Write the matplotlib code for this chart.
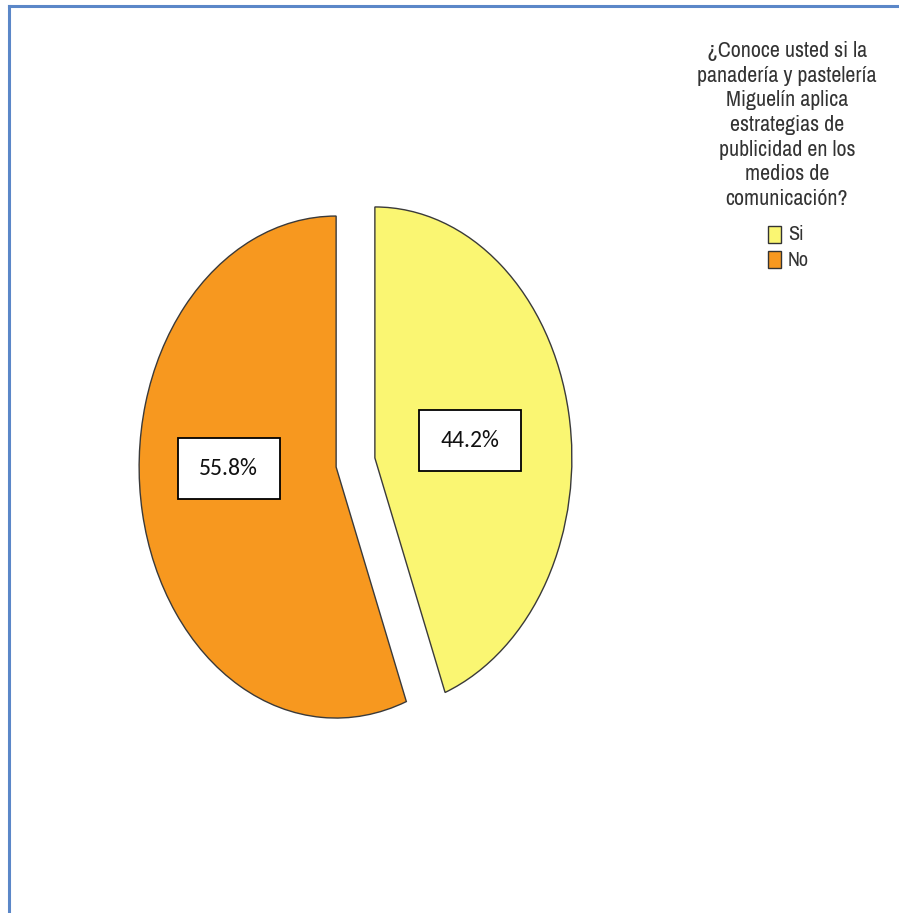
import matplotlib
matplotlib.use("Agg")
import matplotlib.pyplot as plt
from matplotlib.patches import Rectangle
from matplotlib.lines import Line2D

# Survey answers and their shares
categories = ["Si", "No"]
percentages = [44.2, 55.8]
colors = ["#FAF672", "#F7981F"]
legend_title = ("¿Conoce usted si la\npanadería y pastelería\nMiguelín aplica\n"
                "estrategias de\npublicidad en los\nmedios de\ncomunicación?")

W, H = 899, 913
fig = plt.figure(figsize=(W / 100, H / 100), dpi=100)
fig.patch.set_facecolor("white")

# Axes sized so the unit pie becomes an upright ellipse (rx≈197 px, ry≈251 px)
rx, ry = 197, 251
cx, cy = 355.5, 913 - 462.5
span = 1.5
ax = fig.add_axes([(cx - span * rx) / W, (cy - span * ry) / H,
                   2 * span * rx / W, 2 * span * ry / H])
ax.axis("off")

explode = [0.1, 0.1]
wedges, _ = ax.pie(percentages, colors=colors, startangle=90, counterclock=False,
                   explode=explode,
                   wedgeprops=dict(edgecolor="#3a3a3a", linewidth=1.0))
ax.set_xlim(-span, span)
ax.set_ylim(-span, span)
ax.set_aspect("auto")

# Percentage labels in white boxes
label_offsets = {"Si": (0.484, 0.07), "No": (-0.545, -0.004)}
bw, bh = 102 / rx, 61 / ry
for w, cat, pct in zip(wedges, categories, percentages):
    vx, vy = w.center
    lx, ly = vx + label_offsets[cat][0], vy + label_offsets[cat][1]
    ax.add_patch(Rectangle((lx - bw / 2, ly - bh / 2), bw, bh, facecolor="white",
                           edgecolor="black", linewidth=1.3, zorder=5))
    ax.text(lx, ly, f"{pct:.1f}%", ha="center", va="center", fontsize=17,
            family=["Carlito", "DejaVu Sans"], color="#111111", zorder=6)

# Legend drawn in figure pixels
narrow = ["Liberation Sans Narrow", "Archivo Narrow", "DejaVu Sans"]
fig.text(787 / W, 1 - 41 / H, legend_title, ha="center", va="top", fontsize=15.8,
         family=narrow, color="#333333", linespacing=1.29)
for i, (cat, col) in enumerate(zip(categories, colors)):
    top = 226 + i * 25
    fig.patches.append(Rectangle((768 / W, 1 - (top + 17) / H), 13 / W, 17 / H,
                                 transform=fig.transFigure, facecolor=col,
                                 edgecolor="#333333", linewidth=1.0))
    fig.text(788 / W, 1 - (top + 9) / H, cat, ha="left", va="center", fontsize=14.5,
             family=narrow, color="#333333")

# Blue frame along the top and left edges
frame = "#5B87C8"
fig.lines.append(Line2D([9 / W, 9 / W], [0, 1 - 6 / H], transform=fig.transFigure,
                        color=frame, linewidth=2.2))
fig.lines.append(Line2D([9 / W, 1], [1 - 6 / H, 1 - 6 / H], transform=fig.transFigure,
                        color=frame, linewidth=2.2))

fig.savefig("out.png", dpi=100)
